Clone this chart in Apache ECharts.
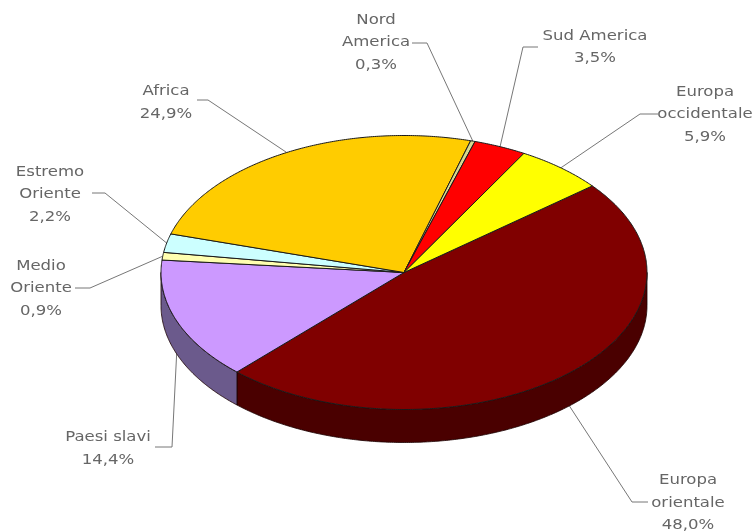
<!DOCTYPE html>
<html>
<head>
<meta charset="utf-8">
<style>html,body{margin:0;padding:0;background:#fff}#chart{width:755px;height:531px}</style>
<script src="https://cdn.jsdelivr.net/npm/echarts@6/dist/echarts.min.js"></script>
</head>
<body>
<div id="chart"></div>
<script>
// Origin shares, clockwise from the upper right edge of the disc.
const regions = ['Europa\norientale', 'Paesi slavi', 'Medio\nOriente', 'Estremo\nOriente', 'Africa', 'Nord\nAmerica', 'Sud America', 'Europa\noccidentale'];
const shares = [48.0, 14.4, 0.9, 2.2, 24.9, 0.3, 3.5, 5.9];
const topColors = ['#800000', '#CC99FF', '#FFFFB0', '#CCFFFF', '#FFCC00', '#D8D890', '#FF0000', '#FFFF00'];
const sideColors = ['#4A0000', '#6B5A8C', '#77775A', '#5F7777', '#775F00', '#77663F', '#770000', '#777700'];

// Disc geometry: a flattened ellipse standing on a short rim.
const disc = { cx: 404, cy: 272.5, rx: 243, ry: 137, depth: 33, startDeg: 39.2 };

// Label centres and the elbow of each leader line, in the order of `regions`.
const labelLayout = [
  { x: 688, y: 503, tail: [648, 502], knee: [632, 502] },
  { x: 108, y: 448.5, tail: [155, 447], knee: [172, 447] },
  { x: 41, y: 288.5, tail: [75, 288], knee: [90, 288] },
  { x: 50, y: 194.5, tail: [92, 193], knee: [105, 193] },
  { x: 166, y: 102.5, tail: [197, 100], knee: [208, 100] },
  { x: 376, y: 42.5, tail: [412, 43], knee: [427, 43] },
  { x: 595, y: 47, tail: [538, 47], knee: [523, 47] },
  { x: 705, y: 114.5, tail: [658, 114], knee: [640, 114] }
];

const total = shares.reduce((a, b) => a + b, 0);

// Start and end angle of a slice in degrees, running clockwise (decreasing).
function sliceRange(i) {
  const before = shares.slice(0, i).reduce((a, b) => a + b, 0);
  return [disc.startDeg - before / total * 360, disc.startDeg - (before + shares[i]) / total * 360];
}

function onRim(deg, drop) {
  const a = deg * Math.PI / 180;
  return [disc.cx + disc.rx * Math.cos(a), disc.cy - disc.ry * Math.sin(a) + (drop || 0)];
}

function arc(from, to, drop) {
  const pts = [];
  const n = Math.max(2, Math.ceil(Math.abs(to - from) / 0.5));
  for (let k = 0; k <= n; k++) pts.push(onRim(from + (to - from) * k / n, drop));
  return pts;
}

function renderLeader(params) {
  const i = params.dataIndex;
  const [s, e] = sliceRange(i);
  const mid = (s + e) / 2;
  const sine = Math.sin(mid * Math.PI / 180);
  const anchor = onRim(mid, sine < -0.1 ? disc.depth : 0);
  const lay = labelLayout[i];
  const pct = shares[i].toFixed(1).replace('.', ',') + '%';
  return {
    type: 'group',
    children: [
      {
        type: 'polyline',
        shape: { points: [lay.tail, lay.knee, anchor] },
        style: { stroke: '#777777', lineWidth: 1, fill: null }
      },
      {
        type: 'text',
        x: lay.x,
        y: lay.y,
        scaleX: 1.14,
        style: {
          text: regions[i] + '\n' + pct,
          align: 'center', verticalAlign: 'middle',
          fontFamily: 'DejaVu Sans', fontSize: 14.5, lineHeight: 22.5,
          fill: '#666666'
        }
      }
    ]
  };
}

function renderSide(params) {
  const i = params.dataIndex;
  const [s, e] = sliceRange(i);
  // Only the front half of the rim is visible.
  const from = Math.min(s, 0);
  const to = Math.max(e, -180);
  if (from <= to) return null;
  const pts = arc(from, to, 0).concat(arc(to, from, disc.depth));
  return {
    type: 'polygon',
    shape: { points: pts },
    style: { fill: sideColors[i], stroke: '#1a0000', lineWidth: 0.8 }
  };
}

function renderTop(params) {
  const i = params.dataIndex;
  const [s, e] = sliceRange(i);
  const pts = [[disc.cx, disc.cy]].concat(arc(s, e, 0));
  return {
    type: 'polygon',
    shape: { points: pts },
    style: { fill: topColors[i], stroke: '#1a1a1a', lineWidth: 1, lineJoin: 'round' }
  };
}

const chart = echarts.init(document.getElementById('chart'), null, { renderer: 'canvas' });
const rows = shares.map(v => [v]);
chart.setOption({
  animation: false,
  backgroundColor: '#ffffff',
  series: [
    { type: 'custom', coordinateSystem: 'none', silent: true, data: rows, renderItem: renderLeader },
    { type: 'custom', coordinateSystem: 'none', silent: true, data: rows, renderItem: renderSide },
    { type: 'custom', coordinateSystem: 'none', silent: true, data: rows, renderItem: renderTop }
  ]
});
</script>
</body>
</html>
